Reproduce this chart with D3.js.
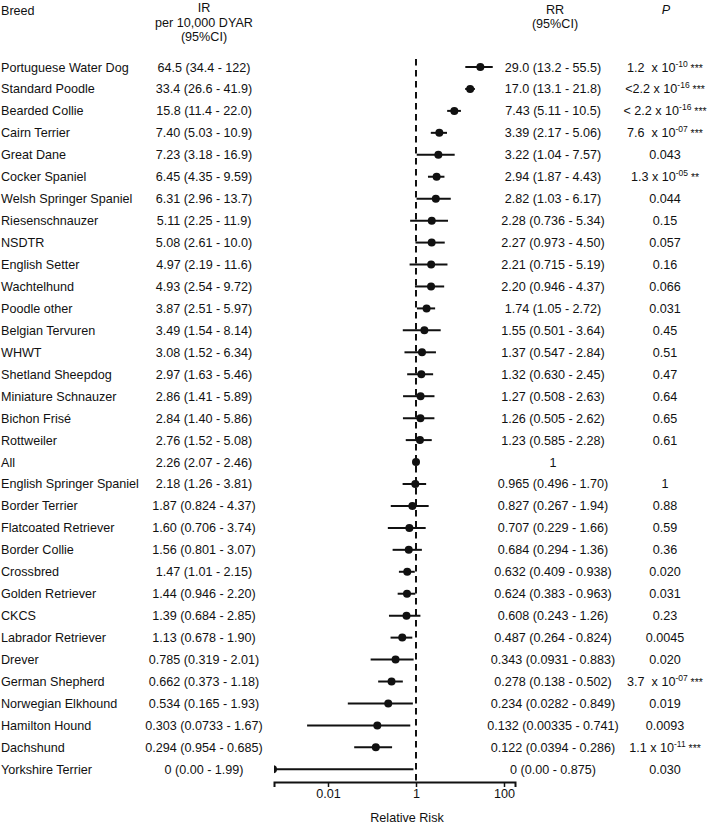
<!DOCTYPE html>
<html>
<head>
<meta charset="utf-8">
<script src="https://cdn.jsdelivr.net/npm/d3@7"></script>
<style>
  html, body { margin: 0; padding: 0; background: #fff; }
  svg text { font-family: "Liberation Sans", Arial, sans-serif; fill: #111; }
</style>
</head>
<body>
<svg id="chart" width="709" height="826"></svg>
<script>
const breeds = ["Portuguese Water Dog","Standard Poodle","Bearded Collie","Cairn Terrier","Great Dane","Cocker Spaniel","Welsh Springer Spaniel","Riesenschnauzer","NSDTR","English Setter","Wachtelhund","Poodle other","Belgian Tervuren","WHWT","Shetland Sheepdog","Miniature Schnauzer","Bichon Frisé","Rottweiler","All","English Springer Spaniel","Border Terrier","Flatcoated Retriever","Border Collie","Crossbred","Golden Retriever","CKCS","Labrador Retriever","Drever","German Shepherd","Norwegian Elkhound","Hamilton Hound","Dachshund","Yorkshire Terrier"];

const irText = ["64.5 (34.4 - 122)","33.4 (26.6 - 41.9)","15.8 (11.4 - 22.0)","7.40 (5.03 - 10.9)","7.23 (3.18 - 16.9)","6.45 (4.35 - 9.59)","6.31 (2.96 - 13.7)","5.11 (2.25 - 11.9)","5.08 (2.61 - 10.0)","4.97 (2.19 - 11.6)","4.93 (2.54 - 9.72)","3.87 (2.51 - 5.97)","3.49 (1.54 - 8.14)","3.08 (1.52 - 6.34)","2.97 (1.63 - 5.46)","2.86 (1.41 - 5.89)","2.84 (1.40 - 5.86)","2.76 (1.52 - 5.08)","2.26 (2.07 - 2.46)","2.18 (1.26 - 3.81)","1.87 (0.824 - 4.37)","1.60 (0.706 - 3.74)","1.56 (0.801 - 3.07)","1.47 (1.01 - 2.15)","1.44 (0.946 - 2.20)","1.39 (0.684 - 2.85)","1.13 (0.678 - 1.90)","0.785 (0.319 - 2.01)","0.662 (0.373 - 1.18)","0.534 (0.165 - 1.93)","0.303 (0.0733 - 1.67)","0.294 (0.954 - 0.685)","0 (0.00 - 1.99)"];

const rr     = [29.0,17.0,7.43,3.39,3.22,2.94,2.82,2.28,2.27,2.21,2.20,1.74,1.55,1.37,1.32,1.27,1.26,1.23,1,0.965,0.827,0.707,0.684,0.632,0.624,0.608,0.487,0.343,0.278,0.234,0.132,0.122,0];
const rrLow  = [13.2,13.1,5.11,2.17,1.04,1.87,1.03,0.736,0.973,0.715,0.946,1.05,0.501,0.547,0.630,0.508,0.505,0.585,null,0.496,0.267,0.229,0.294,0.409,0.383,0.243,0.264,0.0931,0.138,0.0282,0.00335,0.0394,0];
const rrHigh = [55.5,21.8,10.5,5.06,7.57,4.43,6.17,5.34,4.50,5.19,4.37,2.72,3.64,2.84,2.45,2.63,2.62,2.28,null,1.70,1.94,1.66,1.36,0.938,0.963,1.26,0.824,0.883,0.502,0.849,0.741,0.286,0.875];

const rrText = ["29.0 (13.2 - 55.5)","17.0 (13.1 - 21.8)","7.43 (5.11 - 10.5)","3.39 (2.17 - 5.06)","3.22 (1.04 - 7.57)","2.94 (1.87 - 4.43)","2.82 (1.03 - 6.17)","2.28 (0.736 - 5.34)","2.27 (0.973 - 4.50)","2.21 (0.715 - 5.19)","2.20 (0.946 - 4.37)","1.74 (1.05 - 2.72)","1.55 (0.501 - 3.64)","1.37 (0.547 - 2.84)","1.32 (0.630 - 2.45)","1.27 (0.508 - 2.63)","1.26 (0.505 - 2.62)","1.23 (0.585 - 2.28)","1","0.965 (0.496 - 1.70)","0.827 (0.267 - 1.94)","0.707 (0.229 - 1.66)","0.684 (0.294 - 1.36)","0.632 (0.409 - 0.938)","0.624 (0.383 - 0.963)","0.608 (0.243 - 1.26)","0.487 (0.264 - 0.824)","0.343 (0.0931 - 0.883)","0.278 (0.138 - 0.502)","0.234 (0.0282 - 0.849)","0.132 (0.00335 - 0.741)","0.122 (0.0394 - 0.286)","0 (0.00 - 0.875)"];

const pMain  = ["1.2  x 10","<2.2 x 10","< 2.2 x 10","7.6  x 10","0.043","1.3 x 10","0.044","0.15","0.057","0.16","0.066","0.031","0.45","0.51","0.47","0.64","0.65","0.61","","1","0.88","0.59","0.36","0.020","0.031","0.23","0.0045","0.020","3.7  x 10","0.019","0.0093","1.1 x 10","0.030"];
const pExp   = ["-10","-16","-16","-07","","-05","","","","","","","","","","","","","","","","","","","","","","","-07","","","-11",""];
const pStars = ["***","***","***","***","","**","","","","","","","","","","","","","","","","","","","","","","","***","","","***",""];

const axisTicks = [0.01, 1, 100];
const axisTickLabels = ["0.01", "1", "100"];

const FS = 12.6;
const svg = d3.select("#chart");

// scales
const y = d3.scalePoint().domain(breeds).range([67, 769.3]);
const xCore = d3.scaleLog().domain([0.01, 100]).range([328, 504]);
const x = d3.scaleLog().domain([xCore.invert(274), xCore.invert(515)]).range([274, 515]);
const axisY = 782;

// headers
const hdr = svg.append("g").attr("font-size", FS);
hdr.append("text").attr("x", 1).attr("y", 15).text("Breed");
hdr.append("text").attr("x", 204).attr("y", 12).attr("text-anchor", "middle").text("IR");
hdr.append("text").attr("x", 204).attr("y", 27).attr("text-anchor", "middle").text("per 10,000 DYAR");
hdr.append("text").attr("x", 204).attr("y", 41).attr("text-anchor", "middle").text("(95%CI)");
hdr.append("text").attr("x", 555).attr("y", 14).attr("text-anchor", "middle").text("RR");
hdr.append("text").attr("x", 555).attr("y", 28).attr("text-anchor", "middle").text("(95%CI)");
hdr.append("text").attr("x", 666).attr("y", 14).attr("text-anchor", "middle").attr("font-style", "italic").text("P");

// rows text
const rows = svg.append("g").attr("font-size", FS);
const idx = d3.range(breeds.length);
rows.selectAll("text.breed").data(idx).join("text").attr("class", "breed")
  .attr("x", 1).attr("y", i => y(breeds[i]) + 4.5).text(i => breeds[i]);
rows.selectAll("text.ir").data(idx).join("text").attr("class", "ir")
  .attr("x", 204).attr("y", i => y(breeds[i]) + 4.5).attr("text-anchor", "middle").text(i => irText[i]);
rows.selectAll("text.rr").data(idx).join("text").attr("class", "rr")
  .attr("x", 553).attr("y", i => y(breeds[i]) + 4.5).attr("text-anchor", "middle").text(i => rrText[i]);

const pt = rows.selectAll("text.p").data(idx).join("text").attr("class", "p")
  .attr("x", 665).attr("y", i => y(breeds[i]) + 4.5).attr("text-anchor", "middle")
  .style("white-space", "pre");
pt.append("tspan").text(i => pMain[i]);
pt.filter(i => pExp[i] !== "").append("tspan").attr("font-size", 8.5).attr("dy", -5).text(i => pExp[i]);
pt.filter(i => pStars[i] !== "").append("tspan").attr("font-size", 10.5).attr("dy", 5).text(i => " " + pStars[i]);

// reference dashed line at RR = 1
svg.append("line")
  .attr("x1", x(1)).attr("x2", x(1)).attr("y1", 59).attr("y2", axisY)
  .attr("stroke", "#111").attr("stroke-width", 2).attr("stroke-dasharray", "6.5,4.5");

// CI lines and points
const clipId = "plotclip";
svg.append("clipPath").attr("id", clipId).append("rect")
  .attr("x", 274).attr("y", 40).attr("width", 250).attr("height", 750);
const plot = svg.append("g").attr("clip-path", `url(#${clipId})`);
const lx = v => v <= 0 ? x.range()[0] : x(v);
plot.selectAll("line.ci").data(idx.filter(i => rrLow[i] !== null)).join("line").attr("class", "ci")
  .attr("x1", i => lx(rrLow[i])).attr("x2", i => lx(rrHigh[i]))
  .attr("y1", i => y(breeds[i])).attr("y2", i => y(breeds[i]))
  .attr("stroke", "#111").attr("stroke-width", 2);
plot.selectAll("circle.pt").data(idx).join("circle").attr("class", "pt")
  .attr("cx", i => rr[i] <= 0 ? x.range()[0] - 1 : x(rr[i]))
  .attr("cy", i => y(breeds[i]))
  .attr("r", 4).attr("fill", "#111");

// axis
const axis = d3.axisBottom(x).tickValues(axisTicks).tickFormat((d, i) => axisTickLabels[i]).tickSizeOuter(0).tickSize(5);
const ag = svg.append("g").attr("transform", `translate(0,${axisY})`).call(axis);
ag.select(".domain").attr("stroke", "#111").attr("stroke-width", 2);
ag.selectAll(".tick line").attr("stroke", "#111").attr("stroke-width", 1.5);
ag.selectAll(".tick text").attr("font-size", FS).attr("font-family", "Liberation Sans, Arial, sans-serif").attr("fill", "#111").attr("dy", "0.9em").attr("y", 5);

svg.append("text").attr("x", 407).attr("y", 822).attr("text-anchor", "middle").attr("font-size", FS).text("Relative Risk");
</script>
</body>
</html>
